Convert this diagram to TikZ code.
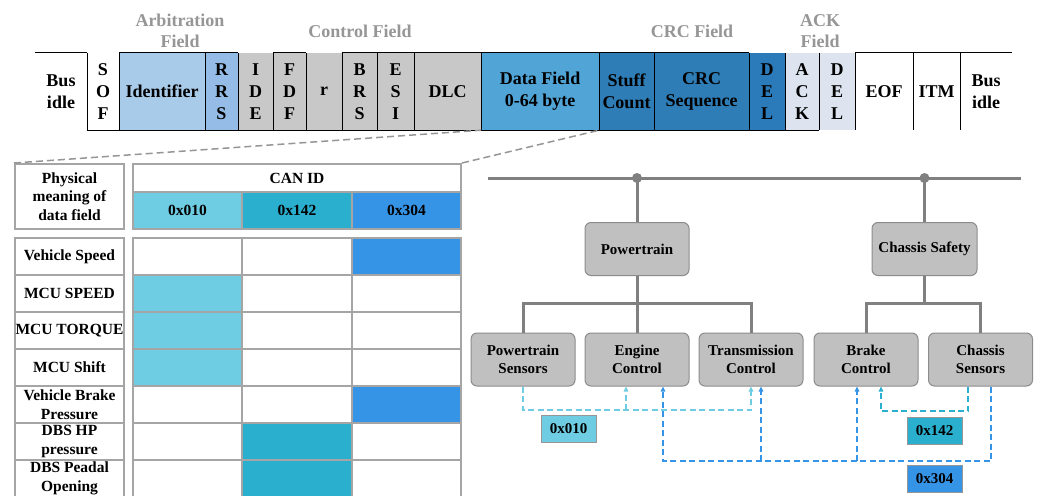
\documentclass[tikz,border=0pt]{standalone}
\usepackage{fontspec}
\setmainfont{Liberation Serif}
\usetikzlibrary{arrows.meta,calc}
\definecolor{idblue}{RGB}{169,203,234}
\definecolor{rrsblue}{RGB}{148,188,230}
\definecolor{cgray}{RGB}{200,200,200}
\definecolor{datablue}{RGB}{80,164,214}
\definecolor{crcblue}{RGB}{46,125,182}
\definecolor{delblue}{RGB}{43,122,186}
\definecolor{acklav}{RGB}{221,228,240}
\definecolor{lblgray}{RGB}{150,150,150}
\definecolor{tabline}{RGB}{165,165,165}
\definecolor{cA}{RGB}{111,205,227}
\definecolor{cB}{RGB}{42,175,207}
\definecolor{cC}{RGB}{54,148,230}
\definecolor{boxfill}{RGB}{192,192,192}
\definecolor{boxline}{RGB}{140,140,140}
\definecolor{busline}{RGB}{128,128,128}
\tikzset{
  cell/.style={minimum height=77pt, inner sep=0pt, align=center,
    font=\fontsize{18}{22}\selectfont\bfseries},
  fieldlbl/.style={inner sep=0pt, align=center, text=lblgray,
    font=\fontsize{18}{21.5}\selectfont\bfseries},
  frameline/.style={draw=black, line width=1.1pt},
  tcell/.style={draw=tabline, line width=2pt, inner sep=0pt, align=center,
    font=\fontsize{15.5}{18.5}\selectfont\bfseries},
  ecu/.style={draw=boxline, fill=boxfill, rounded corners=6pt, line width=1pt,
    minimum width=104pt, minimum height=53pt, inner sep=0pt, align=center,
    font=\fontsize{15}{18.5}\selectfont\bfseries},
  tree/.style={draw=busline, line width=3pt},
  sig/.style={line width=1.5pt, dash pattern=on 6pt off 3.5pt,
    -{Triangle[length=5pt,width=4.5pt]}},
  idlbl/.style={draw=lblgray, line width=1pt, minimum width=55pt,
    minimum height=27pt, inner sep=0pt,
    font=\fontsize{15}{17}\selectfont\bfseries},
  zoomline/.style={draw=lblgray, line width=1.5pt, dash pattern=on 7pt off 4pt}
}
\begin{document}
\begin{tikzpicture}[x=1pt,y=-1pt]
\clip (0,0) rectangle (1038,495);
\fill[white] (0,0) rectangle (1038,495);

% ---------- CAN FD frame ----------
\node[cell, minimum width=52pt] (busL) at (61,91.5) {Bus\\idle};
\node[cell, minimum width=32pt] (sof) at (103,91.5) {S\\O\\F};
\node[cell, minimum width=86pt, fill=idblue] (ident) at (162,91.5) {Identifier};
\node[cell, minimum width=33pt, fill=rrsblue] (rrs) at (221.5,91.5) {R\\R\\S};
\node[cell, minimum width=35pt, fill=cgray] (ide) at (255.5,91.5) {I\\D\\E};
\node[cell, minimum width=33pt, fill=cgray] (fdf) at (289.5,91.5) {F\\D\\F};
\node[cell, minimum width=36pt, fill=cgray] (rbit) at (324,91.5) {r};
\node[cell, minimum width=35pt, fill=cgray] (brs) at (359.5,91.5) {B\\R\\S};
\node[cell, minimum width=37pt, fill=cgray] (esi) at (395.5,91.5) {E\\S\\I};
\node[cell, minimum width=67pt, fill=cgray] (dlc) at (447.5,91.5) {DLC};
\node[cell, minimum width=118pt, fill=datablue] (data) at (540,91.5) {Data Field\\0-64 byte};
\node[cell, minimum width=55pt, fill=crcblue] (stuff) at (626.5,91.5) {Stuff\\Count};
\node[cell, minimum width=95pt, fill=crcblue] (crc) at (701.5,91.5) {CRC\\Sequence};
\node[cell, minimum width=36pt, fill=delblue] (del1) at (767,91.5) {D\\E\\L};
\node[cell, minimum width=34pt, fill=acklav] (ack) at (802,91.5) {A\\C\\K};
\node[cell, minimum width=36pt, fill=acklav] (del2) at (837,91.5) {D\\E\\L};
\node[cell, minimum width=58pt] (eof) at (884,91.5) {EOF};
\node[cell, minimum width=47pt] (itm) at (936.5,91.5) {ITM};
\node[cell, minimum width=52pt] (busR) at (986,91.5) {Bus\\idle};

\draw[frameline] (busL.north west) -- (busL.north east);
\draw[frameline] (ident.north west) -- (rrs.north east);
\draw[frameline] (fdf.north west) -- (fdf.north east);
\draw[frameline] (brs.north west) -- (crc.north east);
\draw[frameline] (eof.north west) -- (busR.north east);
\draw[frameline] (sof.south west) -- (ack.south east);
\foreach \n in {busL,sof,ident,rrs,ide,fdf,rbit,brs,esi,dlc,data,stuff,crc,del1,ack,del2,eof,itm}
  \draw[frameline] (\n.north east) -- (\n.south east);

\node[fieldlbl] (arbl) at (180,31) {Arbitration\\Field};
\node[fieldlbl] (ctll) at (360,31) {Control Field};
\node[fieldlbl] (crcl) at (692,31) {CRC Field};
\node[fieldlbl] (ackl) at (820,31) {ACK\\Field};

% ---------- table ----------
\node[tcell, minimum width=109pt, minimum height=65pt] (hdrL) at (69.5,196.5) {Physical\\meaning of\\data field};
\node[tcell, minimum width=328pt, minimum height=28pt] (canid) at (297,178) {CAN ID};
\node[tcell, minimum width=109pt, minimum height=37pt, fill=cA] (id1) at (187.5,210.5) {0x010};
\node[tcell, minimum width=110pt, minimum height=37pt, fill=cB] (id2) at (297,210.5) {0x142};
\node[tcell, minimum width=109pt, minimum height=37pt, fill=cC] (id3) at (406.5,210.5) {0x304};

\foreach \i/\txt/\fa/\fb/\fc in {
  1/{Vehicle Speed}/white/white/cC,
  2/{MCU SPEED}/cA/white/white,
  3/{MCU TORQUE}/cA/white/white,
  4/{MCU Shift}/cA/white/white,
  5/{Vehicle Brake\\Pressure}/white/white/cC,
  6/{DBS HP\\pressure}/white/cB/white,
  7/{DBS Peadal\\Opening}/white/cB/white}{
  \pgfmathsetmacro{\yc}{238+37*(\i-1)+18.5}
  \node[tcell, minimum width=109pt, minimum height=37pt] (row\i) at (69.5,\yc) {\txt};
  \node[tcell, minimum width=109pt, minimum height=37pt, fill=\fa] (c\i a) at (187.5,\yc) {};
  \node[tcell, minimum width=110pt, minimum height=37pt, fill=\fb] (c\i b) at (297,\yc) {};
  \node[tcell, minimum width=109pt, minimum height=37pt, fill=\fc] (c\i c) at (406.5,\yc) {};
}

\draw[zoomline] (hdrL.north west) -- (dlc.south east);
\draw[zoomline] (canid.north east) -- (data.south east);

% ---------- network ----------
\coordinate (busA) at (488,178);
\coordinate (busB) at (1021,178);
\coordinate (j1) at (637,178);
\coordinate (j2) at (924.5,178);
\node[ecu] (pt) at (637,249) {Powertrain};
\node[ecu, minimum width=105pt] (cs) at (924.5,249) {Chassis Safety};
\node[ecu] (ps) at (523,359.5) {Powertrain\\Sensors};
\node[ecu] (ec) at (637,359.5) {Engine\\Control};
\node[ecu] (tc) at (751,359.5) {Transmission\\Control};
\node[ecu] (bc) at (866,359.5) {Brake\\Control};
\node[ecu] (css) at (980.5,359.5) {Chassis\\Sensors};

\draw[tree] (busA) -- (busB);
\fill[busline] (j1) circle (5pt);
\fill[busline] (j2) circle (5pt);
\draw[tree] (j1) -- (pt.north);
\draw[tree] (pt.south) -- (ec.north);
\draw[tree] (ps.north) -- ++(0,-29) -| (tc.north);
\draw[tree] (j2) -- (cs.north);
\draw[tree] (cs.south) -- ++(0,29);
\draw[tree] (bc.north) -- ++(0,-29) -| (css.north);

% 0x010
\coordinate (a1) at (523,410);
\coordinate (a2) at (751,410);
\coordinate (a3) at (626,410);
\draw[sig, draw=cA] (ps.south) -- (a1) -- (a2) -- (tc.south);
\draw[sig, draw=cA] (a3) -- (a3 |- ec.south);
% 0x304
\coordinate (b1) at (991,461);
\coordinate (b2) at (663,461);
\coordinate (b3) at (761,461);
\coordinate (b4) at (857,461);
\draw[sig, draw=cC] (b1 |- css.south) -- (b1) -- (b2) -- (b2 |- ec.south);
\draw[sig, draw=cC] (b3) -- (b3 |- tc.south);
\draw[sig, draw=cC] (b4) -- (b4 |- bc.south);
% 0x142
\coordinate (d1) at (968,411);
\coordinate (d2) at (881,411);
\draw[sig, draw=cB] (d1 |- css.south) -- (d1) -- (d2) -- (d2 |- bc.south);

\node[idlbl, fill=cA] (l010) at (568.5,429) {0x010};
\node[idlbl, fill=cB] (l142) at (934.5,431) {0x142};
\node[idlbl, fill=cC] (l304) at (934.5,478.5) {0x304};
\end{tikzpicture}
\end{document}
